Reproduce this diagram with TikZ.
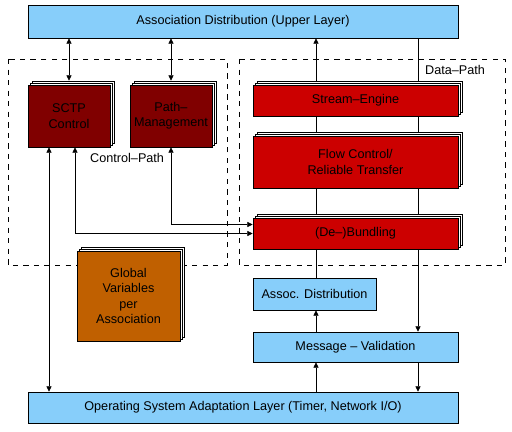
\documentclass[tikz,border=0pt]{standalone}
\usepackage{fontspec}
\setmainfont{Liberation Sans}
\usetikzlibrary{arrows.meta,shadows,backgrounds}

\definecolor{skyblue}{RGB}{135,206,250}
\definecolor{ctrlred}{RGB}{128,0,0}
\definecolor{datared}{RGB}{204,0,0}
\definecolor{varorange}{RGB}{192,96,0}

\tikzset{
  every node/.style={font=\fontsize{7.2}{8.8}\selectfont},
  blk/.style 2 args={draw, line width=0.5pt, inner sep=0pt, align=center,
    minimum width=#1*0.02cm, minimum height=#2*0.02cm},
  stack/.style={
    copy shadow={shadow xshift=0.08cm, shadow yshift=0.08cm, fill=white, draw=black, line width=0.5pt},
    copy shadow={shadow xshift=0.04cm, shadow yshift=0.04cm, fill=white, draw=black, line width=0.5pt}},
  layer/.style={fill=skyblue},
  ctrl/.style={stack, fill=ctrlred},
  data/.style={stack, fill=datared},
  region/.style={draw, dashed, line width=0.5pt},
  link/.style={line width=0.5pt, >={Triangle[length=3pt,width=3pt]}}
}

\begin{document}
\begin{tikzpicture}[x=0.02cm, y=-0.02cm]
\useasboundingbox (0,0) rectangle (512,432);

\draw[region] (8,59) rectangle (227,265);
\draw[region] (239,59) rectangle (505,265);

\node[blk={430}{33}, layer] (upper) at (243,21.5) {Association Distribution (Upper Layer)};
\node[blk={82}{62}, ctrl] (sctp) at (69,116) {SCTP\\Control};
\node[blk={82}{62}, ctrl] (pathm) at (171,116) {Path--\\Management};
\node[anchor=west] (ctrllbl) at (84,158) {Control--Path};
\node[anchor=west] (datalbl) at (419,70) {Data--Path};

\node[blk={205}{31}, data] (stream) at (355.5,100.5) {Stream--Engine};
\node[blk={205}{52}, data] (flow) at (355.5,162) {Flow Control/\\Reliable Transfer};
\node[blk={205}{31}, data] (bundl) at (355.5,233.5) {(De--)Bundling};

\node[blk={103}{90}, stack, fill=varorange] (globvar) at (128.5,296) {Global\\Variables\\per\\Association};

\node[blk={123}{32}, layer] (assoc) at (314.5,294) {Assoc. Distribution};
\node[blk={205}{30}, layer] (msgval) at (355.5,347) {Message -- Validation};
\node[blk={430}{31}, layer] (os) at (243,407.5) {Operating System Adaptation Layer (Timer, Network I/O)};

\coordinate (cos) at (49,0);
\coordinate (cbun) at (75,0);
\coordinate (dup) at (316,0);
\coordinate (ddown) at (418,0);

\begin{scope}[on background layer, link]
\draw[<->, shorten >=0.08cm] (sctp.north |- upper.south) -- (sctp.north);
\draw[<->, shorten >=0.08cm] (pathm.north |- upper.south) -- (pathm.north);
\draw[<->] (sctp.south -| cos) -- (os.north -| cos);
\draw[<->] (sctp.south -| cbun) |- (bundl.west);
\draw[<->] (pathm.south) |- ([yshift=0.18cm]bundl.west);

\draw[->] (stream.north -| dup) -- (upper.south -| dup);
\draw (upper.south -| ddown) -- (stream.north -| ddown);
\draw (stream.south -| dup) -- (flow.north -| dup);
\draw (stream.south -| ddown) -- (flow.north -| ddown);
\draw (flow.south -| dup) -- (bundl.north -| dup);
\draw (flow.south -| ddown) -- (bundl.north -| ddown);
\draw (bundl.south -| dup) -- (assoc.north -| dup);
\draw[->] (bundl.south -| ddown) -- (msgval.north -| ddown);
\draw[->] (msgval.north -| dup) -- (assoc.south -| dup);
\draw[->] (os.north -| dup) -- (msgval.south -| dup);
\draw[->] (msgval.south -| ddown) -- (os.north -| ddown);
\end{scope}
\end{tikzpicture}
\end{document}
